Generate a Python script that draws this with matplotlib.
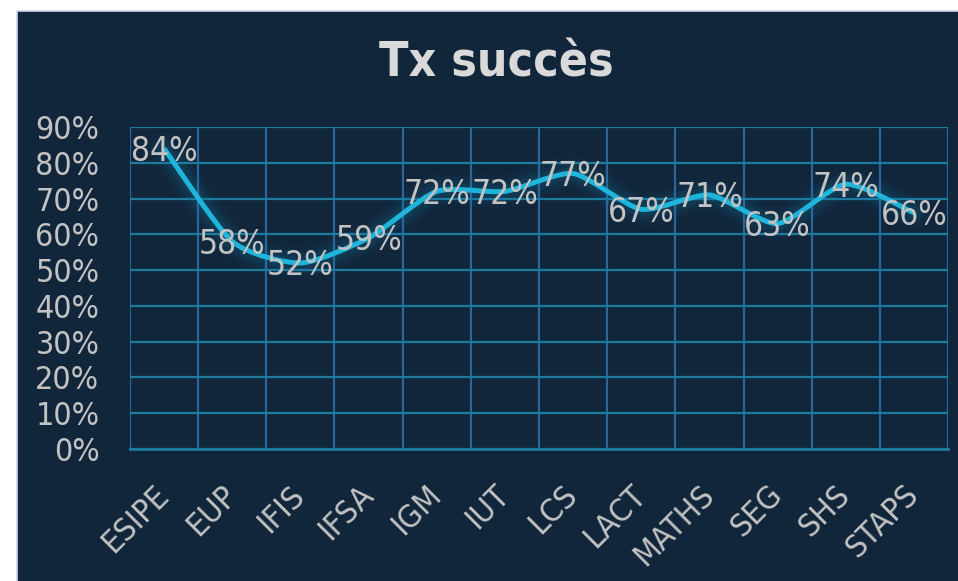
import numpy as np
import matplotlib
matplotlib.use("Agg")
import matplotlib.pyplot as plt
from matplotlib.patches import Rectangle, PathPatch
from matplotlib.path import Path
from matplotlib.ticker import FixedLocator, PercentFormatter

categories = ["ESIPE", "EUP", "IFIS", "IFSA", "IGM", "IUT", "LCS",
              "LACT", "MATHS", "SEG", "SHS", "STAPS"]
taux = [0.84, 0.58, 0.52, 0.59, 0.72, 0.72, 0.77, 0.67, 0.71, 0.63, 0.74, 0.66]
y_ticks = [0.0, 0.1, 0.2, 0.3, 0.4, 0.5, 0.6, 0.7, 0.8, 0.9]

bg = "#11263B"
hgrid = "#1E7BA0"
vgrid = "#2B659A"
line_col = "#1FB4DA"
glow_col = "#1A86AE"
txt_col = "#C3C3C3"

plt.rcParams["font.family"] = ["DejaVu Sans"]

W, H = 958, 581
fig = plt.figure(figsize=(W / 100, H / 100), dpi=100, facecolor="white")

# fond de la zone graphique
fig.patches.append(Rectangle((17 / W, -0.05), 1.1, 1.05 - 11 / H,
                             transform=fig.transFigure, facecolor=bg,
                             edgecolor="#D4D4EC", linewidth=1.2, zorder=-5))

ax = fig.add_axes([130 / W, (H - 449) / H, (948 - 130) / W, (449 - 127) / H])
ax.set_zorder(2)
ax.set_facecolor(bg)

x = np.arange(len(categories))
ax.set_xlim(-0.5, len(categories) - 0.5)
ax.set_ylim(0, 0.9)

# courbe lissée (Bezier type Excel)
k = 1 / 9
pts = np.column_stack([x, taux])
verts = [tuple(pts[0])]
codes = [Path.MOVETO]
for i in range(len(pts) - 1):
    p0 = pts[max(i - 1, 0)]
    p1 = pts[i]
    p2 = pts[i + 1]
    p3 = pts[min(i + 2, len(pts) - 1)]
    c1 = p1 + (p2 - p0) * k
    c2 = p2 - (p3 - p1) * k
    verts += [tuple(c1), tuple(c2), tuple(p2)]
    codes += [Path.CURVE4] * 3
path = Path(verts, codes)

# effet lumineux
for lw, a in [(24, 0.04), (19, 0.05), (14, 0.07), (9, 0.09)]:
    ax.add_patch(PathPatch(path, facecolor="none", edgecolor=glow_col,
                           linewidth=lw, alpha=a, capstyle="round",
                           joinstyle="round", zorder=2))
ax.add_patch(PathPatch(path, facecolor="none", edgecolor=line_col,
                       linewidth=3.6, capstyle="butt", zorder=3))

for xi, v in zip(x, taux):
    ax.annotate(f"{v:.0%}", (xi, v), xytext=(0, -2), textcoords="offset points",
                ha="center", va="center", fontsize=24, color=txt_col,
                fontstretch="condensed", zorder=4)

# grilles
ax.yaxis.set_major_locator(FixedLocator(y_ticks))
ax.yaxis.set_major_formatter(PercentFormatter(1.0, decimals=0))
ax.grid(axis="y", color=hgrid, linewidth=1.6, zorder=1)
ax.xaxis.set_major_locator(FixedLocator(x))
ax.xaxis.set_minor_locator(FixedLocator(np.arange(-0.5, len(categories), 1)))
ax.grid(axis="x", which="minor", color=vgrid, linewidth=1.6, zorder=1)
ax.set_axisbelow(True)
ax.set_xticks(x)
ax.set_xticklabels(categories, rotation=45, ha="right", va="center",
                   rotation_mode="anchor", fontsize=23, color=txt_col,
                   fontstretch="condensed")
for lab in ax.get_yticklabels():
    lab.set_fontsize(23)
    lab.set_color(txt_col)
    lab.set_fontstretch("condensed")
ax.tick_params(axis="both", which="both", length=0)
ax.tick_params(axis="y", pad=22)
ax.tick_params(axis="x", pad=30)

for side in ["top", "right", "left"]:
    ax.spines[side].set_visible(False)
ax.spines["bottom"].set_color(hgrid)
ax.spines["bottom"].set_linewidth(2)

fig.text(496 / W, 1 - 63 / H, "Tx succès", ha="center", va="center",
         fontsize=34.5, fontweight="bold", color="#D9D9D9", fontstretch="condensed")

fig.savefig("out.png", dpi=100, facecolor="white")
